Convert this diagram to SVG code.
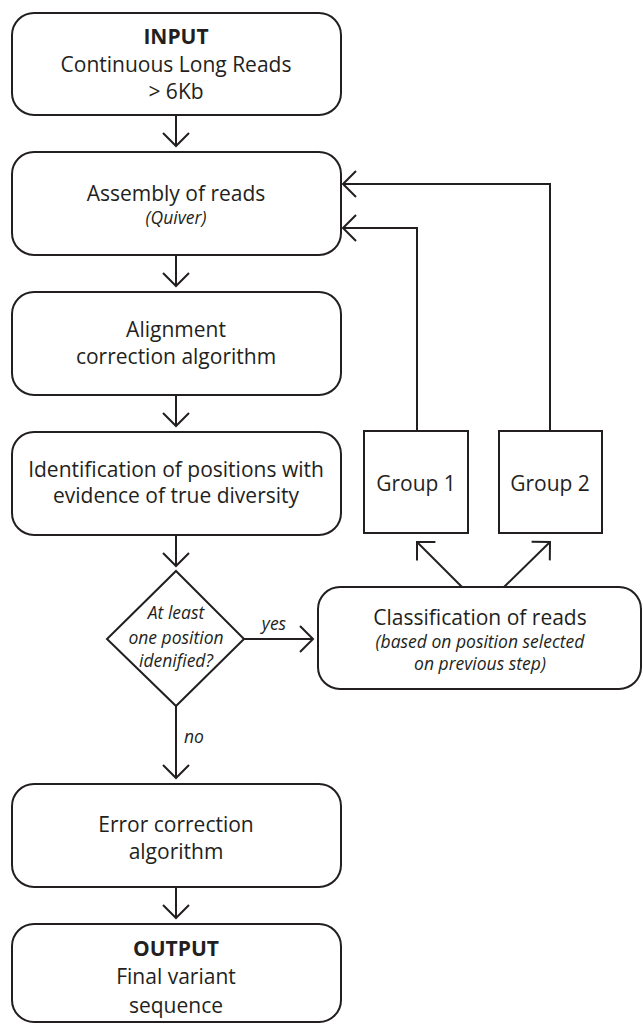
<svg xmlns="http://www.w3.org/2000/svg" width="643" height="1024" viewBox="0 0 643 1024">
<defs>
<style>
.box{fill:#fff;stroke:#231f20;stroke-width:2}
.t{font-family:"Open Sans","Noto Sans","Liberation Sans",sans-serif;font-size:21px;fill:#231f20;text-anchor:middle}
.b{font-weight:bold}
.i{font-style:italic;font-size:17.5px}
.c{fill:none;stroke:#231f20;stroke-width:2}
</style>
<marker id="ah" markerUnits="userSpaceOnUse" markerWidth="30" markerHeight="30" viewBox="-15 -15 30 30" refX="0" refY="0" orient="auto" overflow="visible">
<path d="M-13,-13 L0,0 L-13,13" fill="none" stroke="#231f20" stroke-width="2"/>
</marker>
</defs>
<rect width="643" height="1024" fill="#fff"/>
<g id="connectors">
<line class="c" x1="176" y1="115" x2="176" y2="146" marker-end="url(#ah)"/>
<line class="c" x1="176" y1="255" x2="176" y2="286" marker-end="url(#ah)"/>
<line class="c" x1="176" y1="395" x2="176" y2="426" marker-end="url(#ah)"/>
<line class="c" x1="176" y1="535" x2="176" y2="566" marker-end="url(#ah)"/>
<line class="c" x1="244" y1="639" x2="313" y2="639" marker-end="url(#ah)"/>
<line class="c" x1="176" y1="706" x2="176" y2="778" marker-end="url(#ah)"/>
<line class="c" x1="176" y1="887" x2="176" y2="918" marker-end="url(#ah)"/>
<line class="c" x1="462" y1="587" x2="417" y2="542" marker-end="url(#ah)"/>
<line class="c" x1="504" y1="587" x2="550" y2="542" marker-end="url(#ah)"/>
<polyline class="c" points="417,431 417,228 343,228" marker-end="url(#ah)"/>
<polyline class="c" points="550,431 550,184 343,184" marker-end="url(#ah)"/>
<text class="t i" x="274" y="630">yes</text>
<text class="t i" x="194" y="743">no</text>
</g>
<g id="input">
<rect class="box" x="12" y="13" width="329" height="102" rx="22"/>
<text class="t b" x="176" y="44">INPUT</text>
<text class="t" x="176" y="72">Continuous Long Reads</text>
<text class="t" x="176" y="99">&gt; 6Kb</text>
</g>
<g id="assembly">
<rect class="box" x="12" y="152" width="329" height="103" rx="22"/>
<text class="t" x="176" y="201">Assembly of reads</text>
<text class="t i" x="176" y="224">(Quiver)</text>
</g>
<g id="alignment">
<rect class="box" x="12" y="292" width="329" height="103" rx="22"/>
<text class="t" x="176" y="337">Alignment</text>
<text class="t" x="176" y="364">correction algorithm</text>
</g>
<g id="identification">
<rect class="box" x="12" y="432" width="329" height="103" rx="22"/>
<text class="t" x="176" y="477">Identification of positions with</text>
<text class="t" x="176" y="503">evidence of true diversity</text>
</g>
<g id="decision">
<polygon class="box" points="176,571 244,639 176,706 107,639"/>
<text class="t i" x="176" y="619">At least</text>
<text class="t i" x="176" y="644">one position</text>
<text class="t i" x="176" y="667">idenified?</text>
</g>
<g id="classification">
<rect class="box" x="318" y="587" width="323" height="102" rx="22"/>
<text class="t" x="480" y="625">Classification of reads</text>
<text class="t i" x="480" y="648">(based on position selected</text>
<text class="t i" x="480" y="670">on previous step)</text>
</g>
<g id="group1">
<rect class="box" x="364" y="431" width="104" height="102"/>
<text class="t" x="416" y="491">Group 1</text>
</g>
<g id="group2">
<rect class="box" x="499" y="431" width="103" height="102"/>
<text class="t" x="550" y="491">Group 2</text>
</g>
<g id="error">
<rect class="box" x="12" y="784" width="329" height="103" rx="22"/>
<text class="t" x="176" y="832">Error correction</text>
<text class="t" x="176" y="859">algorithm</text>
</g>
<g id="output">
<rect class="box" x="12" y="924" width="329" height="98" rx="22"/>
<text class="t b" x="176" y="956">OUTPUT</text>
<text class="t" x="176" y="984">Final variant</text>
<text class="t" x="176" y="1013">sequence</text>
</g>
</svg>
